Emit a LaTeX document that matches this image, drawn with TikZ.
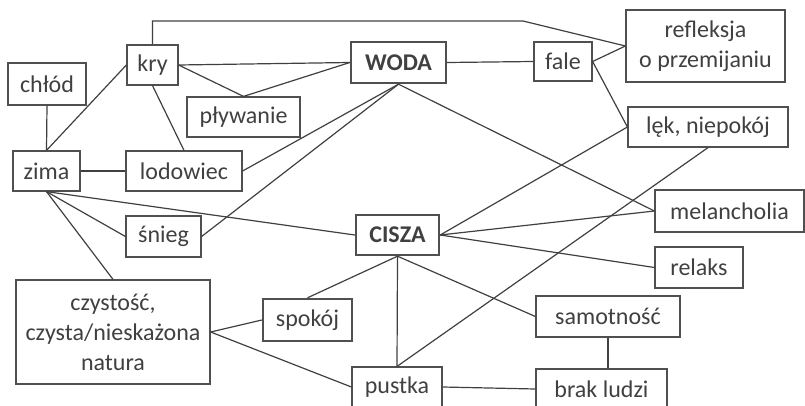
\documentclass[tikz,border=0pt]{standalone}
\usepackage{fontspec}
\setmainfont{Carlito}
\definecolor{ink}{HTML}{404040}
\definecolor{frame}{HTML}{505050}
\begin{document}
\begin{tikzpicture}[x=0.75pt,y=-0.75pt,
  every node/.style={text=ink,font=\fontsize{18}{22.5}\selectfont},
  box/.style={draw=frame,line width=0.9pt,inner sep=0pt,align=center},
  mainbox/.style={box,line width=1.8pt,font=\fontsize{18}{22.5}\selectfont\bfseries},
  wh/.style 2 args={minimum width=#1*0.75pt,minimum height=#2*0.75pt},
  link/.style={draw=ink,line width=0.9pt}]
\useasboundingbox (0,0) rectangle (805,406);

% left side
\node[box,wh={78}{42}]   (chlod)    at (47,84)     {chłód};
\node[box,wh={51}{40}]   (kry)      at (152.5,65)  {kry};
\node[box,wh={67}{40}]   (zima)     at (46.5,171)  {zima};
\node[box,wh={116}{40}]  (lodowiec) at (184,171)   {lodowiec};
\node[box,wh={113}{40}]  (plywanie) at (243.5,117) {pływanie};
\node[box,wh={75}{41}]   (snieg)    at (163.5,236.5) {śnieg};
\node[box,wh={194}{104}] (czystosc) at (113,332)   {czystość,\\czysta/nieskażona\\natura};
\node[mainbox,wh={89}{42}] (spokoj) at (307.5,320) {\mdseries spokój};

% middle
\node[mainbox,wh={95}{41}] (woda)   at (398.5,62.5) {WODA};
\node[mainbox,wh={83}{40}] (cisza)  at (397.5,235)  {CISZA};
\node[box,wh={90}{40}]   (pustka)   at (397,387)   {pustka};

% right side
\node[box,wh={58}{39}]   (fale)     at (563,61.5)  {fale};
\node[box,wh={159}{72}]  (refleksja) at (705.5,46) {refleksja\\o przemijaniu};
\node[box,wh={160}{40}]  (lek)      at (708,127)   {lęk, niepokój};
\node[box,wh={149}{42}]  (melancholia) at (729.5,211) {melancholia};
\node[box,wh={88}{41}]   (relaks)   at (699,267.5) {relaks};
\node[box,wh={144}{41}]  (samotnosc) at (608,316.5) {samotność};
\node[box,wh={131}{40}]  (brak)     at (601.5,389) {brak ludzi};

\coordinate (bend) at (523,21);

\draw[link] (chlod.south) -- (zima.north);
\draw[link] (zima.north) -- (kry.west);
\draw[link] (zima.east) -- (lodowiec.west);
\draw[link] (kry.south) -- (lodowiec.north);
\draw[link] (kry.east) -- (woda.west);
\draw[link] (kry.east) -- (plywanie.north) -- (woda.west);
\draw[link] (kry.north) |- (bend) -- (refleksja.west);
\draw[link] (lodowiec.east) -- (woda.south);
\draw[link] (snieg.east) -- (woda.south);
\draw[link] (woda.south) -- (melancholia.west);
\draw[link] (woda.east) -- (fale.west);
\draw[link] (fale.east) -- (refleksja.west);
\draw[link] (fale.east) -- (lek.west);
\draw[link] (lek.west) -- (cisza.east);
\draw[link] (lek.south) -- (pustka.north);
\draw[link] (zima.south) -- (snieg.west);
\draw[link] (zima.south) -- (cisza.west);
\draw[link] (zima.south) -- (czystosc.north);
\draw[link] (cisza.east) -- (melancholia.west);
\draw[link] (cisza.east) -- (relaks.west);
\draw[link] (cisza.south) -- (spokoj.north);
\draw[link] (cisza.south) -- (pustka.north);
\draw[link] (cisza.south) -- (samotnosc.west);
\draw[link] (czystosc.east) -- (spokoj.west);
\draw[link] (czystosc.east) -- (pustka.west);
\draw[link] (pustka.east) -- (brak.west);
\draw[link] (samotnosc.south) -- (samotnosc.south |- brak.north);

\end{tikzpicture}
\end{document}
